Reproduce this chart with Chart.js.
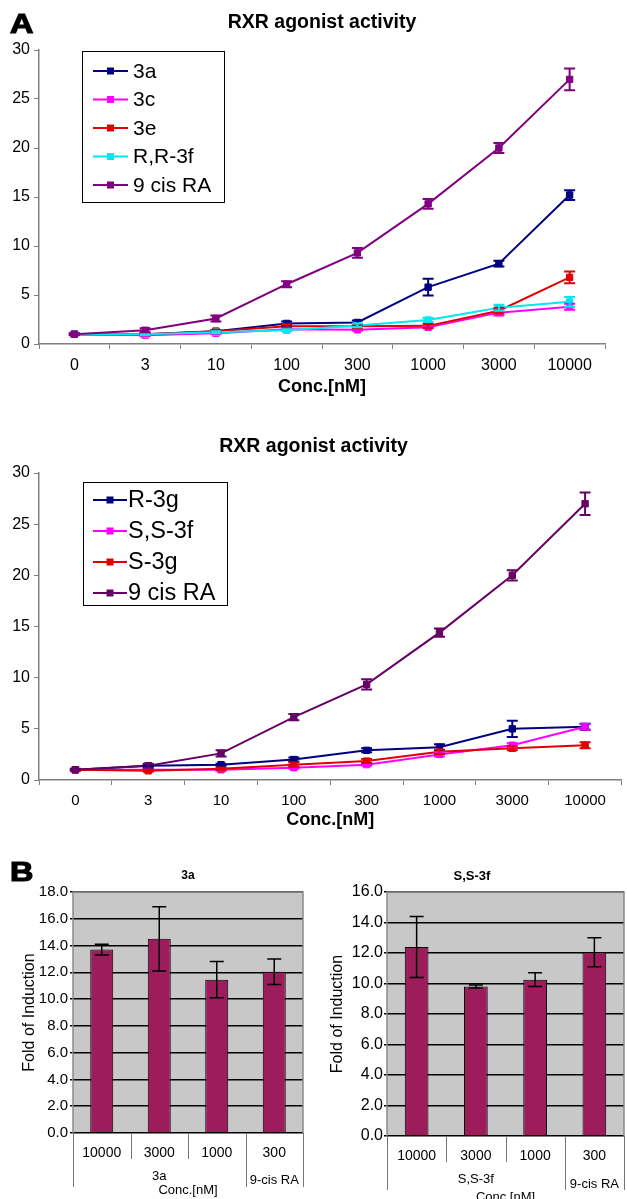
<!DOCTYPE html>
<html>
<head>
<meta charset="utf-8">
<script src="https://cdn.jsdelivr.net/npm/chart.js@4.4.1/dist/chart.umd.min.js"></script>
<style>
  html, body { margin: 0; padding: 0; background: #fff; }
  #page { position: relative; width: 627px; height: 1199px; overflow: hidden; }
  canvas { position: absolute; }
  .panel { position: absolute; font: bold 27px Arial, "Liberation Sans", sans-serif; line-height: 1;
           -webkit-text-stroke: 1.2px #000; transform-origin: left top; transform: scaleX(1.2); }
</style>
</head>
<body>
<div id="page">
  <canvas id="c1" width="627" height="400" style="left:0;top:0"></canvas>
  <canvas id="c2" width="627" height="432" style="left:0;top:400px"></canvas>
  <canvas id="c3" width="320" height="359" style="left:0;top:840px"></canvas>
  <canvas id="c4" width="307" height="366" style="left:320px;top:840px"></canvas>
  <div class="panel" style="left:10px;top:11px">A</div>
  <div class="panel" style="left:10px;top:859px">B</div>
</div>
<script>
// ---- data ----
const concLabels = ['0', '3', '10', '100', '300', '1000', '3000', '10000'];

// panel A, upper chart
const namesTop = ['3a', '3c', '3e', 'R,R-3f', '9 cis RA'];
const v3a   = [1.0, 1.0, 1.3, 2.1, 2.2, 5.8, 8.2, 15.2];
const e3a   = [0.05, 0.1, 0.1, 0.2, 0.2, 0.85, 0.3, 0.5];
const v3c   = [1.0, 0.9, 1.1, 1.5, 1.45, 1.7, 3.2, 3.8];
const e3c   = [0.05, 0.1, 0.1, 0.1, 0.1, 0.1, 0.3, 0.3];
const v3e   = [1.0, 1.0, 1.3, 1.8, 1.8, 1.85, 3.4, 6.8];
const e3e   = [0.05, 0.1, 0.1, 0.2, 0.2, 0.2, 0.3, 0.6];
const vRR3f = [1.0, 1.0, 1.2, 1.4, 1.9, 2.45, 3.7, 4.3];
const eRR3f = [0.05, 0.1, 0.1, 0.1, 0.2, 0.2, 0.3, 0.5];
const vRA1  = [1.0, 1.4, 2.6, 6.1, 9.3, 14.3, 20.0, 27.0];
const eRA1  = [0.1, 0.2, 0.3, 0.3, 0.5, 0.5, 0.5, 1.1];

// panel A, lower chart
const namesBottom = ['R-3g', 'S,S-3f', 'S-3g', '9 cis RA'];
const vR3g  = [1.0, 1.4, 1.5, 2.0, 2.9, 3.2, 5.0, 5.2];
const eR3g  = [0.05, 0.1, 0.1, 0.2, 0.2, 0.3, 0.8, 0.3];
const vSS3f = [1.0, 1.0, 1.0, 1.2, 1.5, 2.5, 3.4, 5.2];
const eSS3f = [0.05, 0.1, 0.1, 0.1, 0.1, 0.2, 0.2, 0.3];
const vS3g  = [1.0, 0.9, 1.1, 1.5, 1.85, 2.75, 3.1, 3.4];
const eS3g  = [0.05, 0.1, 0.1, 0.2, 0.2, 0.2, 0.2, 0.3];
const vRA2  = [1.0, 1.4, 2.6, 6.15, 9.35, 14.4, 20.0, 27.0];
const eRA2  = [0.1, 0.2, 0.3, 0.3, 0.5, 0.4, 0.5, 1.1];

// panel B
const barLabels = ['10000', '3000', '1000', '300'];
const groupSizes = [3, 1];
const groups3a = ['3a', '9-cis RA'];
const groupsSS = ['S,S-3f', '9-cis RA'];
const bar3a  = [13.7, 14.5, 11.45, 12.05];
const err3a  = [0.4, 2.4, 1.35, 0.95];
const barSS  = [12.4, 9.8, 10.25, 12.05];
const errSS  = [2.0, 0.1, 0.45, 0.95];

Chart.defaults.font.family = 'Arial, "Liberation Sans", sans-serif';
Chart.defaults.color = '#000';

// ---- plugins ----
const errorBars = {
  id: 'errorBars',
  afterDatasetsDraw(chart, args, o) {
    const ctx = chart.ctx, y = chart.scales.y;
    chart.data.datasets.forEach((ds, di) => {
      if (!ds.errors) return;
      const meta = chart.getDatasetMeta(di);
      ctx.save();
      ctx.strokeStyle = o.color || ds.borderColor;
      ctx.lineWidth = o.lineWidth;
      meta.data.forEach((el, i) => {
        const e = ds.errors[i];
        const v = ds.data[i];
        const x = el.x;
        const yt = y.getPixelForValue(v + e), yb = y.getPixelForValue(v - e);
        ctx.beginPath();
        ctx.moveTo(x, yt); ctx.lineTo(x, yb);
        ctx.moveTo(x - o.cap, yt); ctx.lineTo(x + o.cap, yt);
        ctx.moveTo(x - o.cap, yb); ctx.lineTo(x + o.cap, yb);
        ctx.stroke();
      });
      ctx.restore();
    });
  }
};

const boxLegend = {
  id: 'boxLegend',
  afterDraw(chart, args, o) {
    const ctx = chart.ctx;
    ctx.save();
    ctx.fillStyle = '#fff';
    ctx.fillRect(o.x, o.y, o.w, o.h);
    ctx.strokeStyle = '#000';
    ctx.lineWidth = 1;
    ctx.strokeRect(o.x + 0.5, o.y + 0.5, o.w, o.h);
    ctx.font = o.font;
    ctx.textBaseline = 'middle';
    chart.data.datasets.forEach((ds, i) => {
      const cy = o.y + o.first + i * o.gap;
      ctx.strokeStyle = ds.borderColor;
      ctx.lineWidth = 2;
      ctx.beginPath();
      ctx.moveTo(o.x + o.lx0, cy); ctx.lineTo(o.x + o.lx1, cy);
      ctx.stroke();
      const mx = o.x + (o.lx0 + o.lx1) / 2;
      ctx.fillStyle = ds.borderColor;
      ctx.fillRect(mx - 3.5, cy - 3.5, 7, 7);
      ctx.fillStyle = '#000';
      ctx.fillText(ds.label, o.x + o.tx, cy + 1);
    });
    ctx.restore();
  }
};

const barFrame = {
  id: 'barFrame',
  beforeDraw(chart) {
    const {ctx, chartArea: a} = chart;
    ctx.save();
    ctx.fillStyle = '#c8c8c8';
    ctx.fillRect(a.left, a.top, a.right - a.left, a.bottom - a.top);
    ctx.restore();
  },
  afterDraw(chart, args, o) {
    const {ctx, chartArea: a} = chart;
    const x = chart.scales.x;
    ctx.save();
    ctx.strokeStyle = '#8a8a8a';
    ctx.lineWidth = 1.5;
    ctx.beginPath();
    ctx.moveTo(a.left, a.bottom); ctx.lineTo(a.left, a.top);
    ctx.lineTo(a.right, a.top); ctx.lineTo(a.right, a.bottom);
    ctx.stroke();

    // category separators below the axis
    const edges = [0];
    o.groupSizes.forEach(g => edges.push(edges[edges.length - 1] + g));
    const n = chart.data.labels.length;
    ctx.strokeStyle = '#777';
    ctx.lineWidth = 1;
    for (let i = 0; i <= n; i++) {
      const px = Math.round(x.getPixelForValue(i - 0.5)) + 0.5;
      const len = edges.includes(i) ? o.longTick : o.shortTick;
      ctx.beginPath();
      ctx.moveTo(px, a.bottom); ctx.lineTo(px, a.bottom + len);
      ctx.stroke();
    }
    // group labels
    ctx.font = o.font;
    ctx.fillStyle = '#000';
    ctx.textAlign = 'center';
    ctx.textBaseline = 'middle';
    o.groupLabels.forEach((g, j) => {
      const px = (x.getPixelForValue(edges[j] - 0.5) + x.getPixelForValue(edges[j + 1] - 0.5)) / 2;
      ctx.fillText(g, px, a.bottom + o.groupY[j]);
    });
    ctx.restore();
  }
};

// ---- line charts ----
function lineChart(id, names, series, errs, colors, s) {
  new Chart(document.getElementById(id), {
    type: 'line',
    data: {
      labels: concLabels,
      datasets: names.map((n, i) => ({
        label: n,
        data: series[i],
        errors: errs[i],
        borderColor: colors[i],
        backgroundColor: colors[i],
        borderWidth: 2,
        pointStyle: 'rect',
        pointRadius: 4.5,
        pointBorderWidth: 1,
        tension: 0,
        order: -i
      }))
    },
    options: {
      responsive: false,
      animation: false,
      layout: { padding: { right: s.padRight } },
      plugins: {
        legend: { display: false },
        tooltip: { enabled: false },
        title: {
          display: true,
          text: 'RXR agonist activity',
          font: { size: 19.5, weight: 'bold' },
          padding: s.titlePad,
          fullSize: s.titleFull
        },
        errorBars: { lineWidth: 2, cap: 5.5 },
        boxLegend: s.legend
      },
      scales: {
        x: {
          offset: true,
          grid: { offset: true, drawOnChartArea: false, drawTicks: true, tickLength: 5, tickColor: '#808080' },
          border: { color: '#808080', width: 1.5 },
          ticks: { font: { size: s.xFont }, padding: 6.5, maxRotation: 0, autoSkip: false },
          title: { display: true, text: 'Conc.[nM]', font: { size: 18, weight: 'bold' }, padding: { top: 0, bottom: s.xTitlePad } },
          afterFit: sc => { sc.height = s.xHeight; }
        },
        y: {
          min: 0, max: 30,
          ticks: { stepSize: 5, font: { size: 16 }, padding: 4 },
          grid: { drawOnChartArea: false, drawTicks: true, tickLength: 5, tickColor: '#808080' },
          border: { color: '#808080', width: 1.5 },
          afterFit: sc => { sc.width = 39; }
        }
      }
    },
    plugins: [errorBars, boxLegend]
  });
}

lineChart('c1', namesTop,
  [v3a, v3c, v3e, vRR3f, vRA1],
  [e3a, e3c, e3e, eRR3f, eRA1],
  ['#000080', '#ff00ff', '#e00000', '#00e8f0', '#800080'],
  {
    padRight: 22, xHeight: 56, xFont: 16, xTitlePad: 2.2,
    titlePad: { top: 11.3, bottom: 15.3 }, titleFull: false,
    legend: { x: 82, y: 51, w: 142, h: 151, first: 20, gap: 28.5, lx0: 11, lx1: 46, tx: 51, font: '21px Arial, "Liberation Sans", sans-serif' }
  });

lineChart('c2', namesBottom,
  [vR3g, vSS3f, vS3g, vRA2],
  [eR3g, eSS3f, eS3g, eRA2],
  ['#000080', '#ff00ff', '#e00000', '#660066'],
  {
    padRight: 0, xHeight: 52, xFont: 15, xTitlePad: 1.2,
    titlePad: { top: 35.3, bottom: 14.3 }, titleFull: true,
    legend: { x: 83, y: 82, w: 144, h: 123, first: 18, gap: 31, lx0: 10, lx1: 44, tx: 45, font: '23.5px Arial, "Liberation Sans", sans-serif' }
  });

// ---- bar charts ----
function barChart(id, title, values, errs, groupLabels, s) {
  new Chart(document.getElementById(id), {
    type: 'bar',
    data: {
      labels: barLabels,
      datasets: [{
        data: values,
        errors: errs,
        backgroundColor: '#9c1c5c',
        borderColor: '#000',
        borderWidth: 1,
        categoryPercentage: 1,
        barPercentage: 0.4
      }]
    },
    options: {
      responsive: false,
      animation: false,
      layout: { padding: { right: s.padRight } },
      plugins: {
        legend: { display: false },
        tooltip: { enabled: false },
        title: {
          display: true, text: title,
          font: { size: s.titleSize, weight: 'bold' },
          padding: s.titlePad, fullSize: s.titleFull
        },
        errorBars: { lineWidth: 1.5, cap: 7, color: '#000' },
        barFrame: { groupSizes: groupSizes, groupLabels: groupLabels, groupY: s.groupY, shortTick: 26, longTick: 54, font: '13px Arial, "Liberation Sans", sans-serif' }
      },
      scales: {
        x: {
          grid: { display: false, drawTicks: false },
          border: { display: false },
          ticks: { font: { size: 14 }, padding: 11.5, maxRotation: 0, autoSkip: false },
          title: { display: true, text: 'Conc.[nM]', font: { size: 13 }, padding: { top: 0, bottom: 1.2 } },
          afterFit: sc => { sc.height = s.xHeight; }
        },
        y: {
          min: 0, max: s.yMax,
          ticks: { stepSize: 2, font: { size: s.yFont }, padding: s.yPad, callback: v => v.toFixed(1) },
          grid: { color: '#000', lineWidth: 1.5, drawTicks: true, tickLength: 3 },
          border: { display: false },
          title: { display: true, text: 'Fold of Induction', font: { size: 16 }, padding: { top: s.yTitlePad, bottom: 0 } },
          afterFit: sc => { sc.width = s.yWidth; }
        }
      }
    },
    plugins: [barFrame, errorBars]
  });
}

barChart('c3', '3a', bar3a, err3a, groups3a, {
  padRight: 17, yWidth: 73, xHeight: 66, yMax: 18, yFont: 15, yPad: 2, yTitlePad: 20.4,
  titleSize: 12, titlePad: { top: 28.8, bottom: 8.8 }, titleFull: false, groupY: [43, 47]
});

barChart('c4', 'S,S-3f', barSS, errSS, groupsSS, {
  padRight: 3, yWidth: 67, xHeight: 70, yMax: 16, yFont: 16, yPad: 1, yTitlePad: 8.4,
  titleSize: 13, titlePad: { top: 28.2, bottom: 8.2 }, titleFull: true, groupY: [43, 48]
});
</script>
</body>
</html>
